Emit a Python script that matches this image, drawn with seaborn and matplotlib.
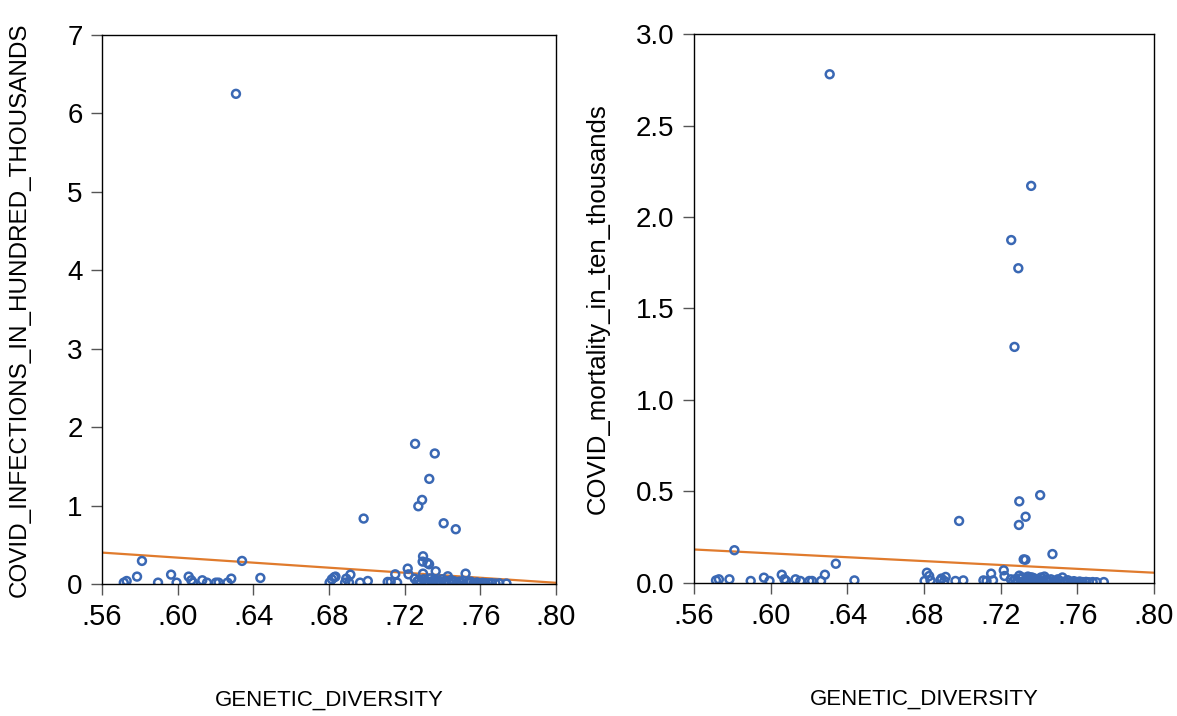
import matplotlib
matplotlib.use('Agg')
import matplotlib.pyplot as plt
import numpy as np
import pandas as pd
import seaborn as sns

# genetic diversity of each country, with the two covid measures
genetic_diversity = [
    .5715, .5730, .5785, .5811, .5896, .5965, .5994, .6058, .6072, .6081,
    .6130, .6155, .6202, .6216, .6263, .6283, .6308, .6340, .6437, .6803,
    .6815, .6827, .6834, .6885, .6891, .6913, .6906, .6964, .6983, .7005,
    .7110, .7126, .7150, .7160, .7216, .7220, .7253, .7255, .7359, .7330,
    .7292, .7272, .7406, .7470, .7297, .7295, .7320, .7329, .7297, .7364,
    .7428, .7522,
    .7265, .7275, .7285, .7300, .7308, .7315, .7325, .7335, .7342, .7350,
    .7356, .7368, .7375, .7382, .7390, .7398, .7410, .7418, .7435, .7445,
    .7455, .7462, .7478, .7488, .7498, .7510, .7535, .7550, .7565, .7582,
    .7598, .7612, .7628, .7645, .7660, .7680, .7700, .7738,
]
infections = [
    .017, .038, .094, .294, .017, .119, .017, .094, .047, .017,
    .047, .017, .017, .017, .017, .068, 6.25, .294, .077, .017,
    .060, .085, .094, .017, .068, .119, .017, .017, .834, .038,
    .026, .026, .123, .017, .196, .123, .068, 1.787, 1.664, 1.34,
    1.072, .991, .774, .698, .353, .285, .268, .251, .132, .162,
    .098, .132,
    .030, .050, .020, .060, .010, .040, .020, .070, .030, .015,
    .050, .020, .040, .010, .030, .060, .020, .040, .015, .050,
    .020, .035, .010, .030, .020, .040, .015, .030, .010, .020,
    .010, .015, .010, .008, .010, .006, .008, .005,
]
mortality = [
    .014, .020, .020, .179, .011, .029, .011, .045, .020, .011,
    .020, .011, .011, .011, .011, .045, 2.78, .105, .014, .011,
    .056, .038, .014, .014, .024, .033, .011, .011, .339, .014,
    .014, .011, .051, .014, .069, .038, .020, 1.874, 2.17, .362,
    1.72, 1.29, .480, .158, .446, .317, .129, .127, .040, .030,
    .035, .030,
    .010, .020, .008, .025, .005, .030, .012, .020, .035, .020,
    .030, .015, .025, .010, .020, .012, .030, .008, .020, .015,
    .010, .020, .008, .012, .020, .010, .008, .015, .006, .010,
    .005, .008, .005, .006, .004, .005, .004, .005,
]

# fitted regression lines (end points)
fit_x = [0.56, 0.80]
fit_infections = [0.40, 0.015]
fit_mortality = [0.183, 0.056]

df = pd.DataFrame({'GENETIC_DIVERSITY': genetic_diversity,
                   'COVID_INFECTIONS_IN_HUNDRED_THOUSANDS': infections,
                   'COVID_mortality_in_ten_thousands': mortality})

sns.set_style('ticks')
plt.rcParams['font.family'] = ['Liberation Sans', 'DejaVu Sans']
plt.rcParams['text.color'] = 'black'
plt.rcParams['axes.labelcolor'] = 'black'
plt.rcParams['xtick.labelcolor'] = 'black'
plt.rcParams['ytick.labelcolor'] = 'black'

dot_color = '#3a68b4'
line_color = '#e07b2d'

fig = plt.figure(figsize=(11.77, 7.16), dpi=100)
ax1 = fig.add_axes([0.0867, 0.1844, 0.3857, 0.7667])
ax2 = fig.add_axes([0.5896, 0.1858, 0.3909, 0.7667])

panels = [
    (ax1, 'COVID_INFECTIONS_IN_HUNDRED_THOUSANDS', fit_infections, 7, np.arange(0, 8, 1), '%d', 17.5, 26),
    (ax2, 'COVID_mortality_in_ten_thousands', fit_mortality, 3, np.arange(0, 3.01, 0.5), '%.1f', 18.5, 19),
]

for ax, col, fit_y, ymax, yticks, fmt, ylab_size, ylab_pad in panels:
    sns.lineplot(x=fit_x, y=fit_y, ax=ax, color=line_color, linewidth=1.6, zorder=1)
    sns.scatterplot(data=df, x='GENETIC_DIVERSITY', y=col, ax=ax, marker='o',
                    facecolor='none', edgecolor=dot_color, linewidth=1.8, s=32, zorder=2)
    ax.set_xlim(0.56, 0.80)
    ax.set_ylim(0, ymax)
    xt = np.arange(0.56, 0.801, 0.04)
    ax.set_xticks(xt)
    ax.set_xticklabels(['.%02d' % round(v * 100) for v in xt], fontsize=21)
    ax.set_yticks(yticks)
    ax.set_yticklabels([fmt % v for v in yticks], fontsize=20)
    ax.tick_params(axis='both', direction='out', length=8, width=1, color='#555555', pad=6)
    for s in ax.spines.values():
        s.set_visible(True)
        s.set_linewidth(1.0)
        s.set_color('black')
    ax.set_xlabel('GENETIC_DIVERSITY', fontsize=16, labelpad=42)
    ax.set_ylabel(col, fontsize=ylab_size, labelpad=ylab_pad)

fig.savefig('out.png', dpi=100)
